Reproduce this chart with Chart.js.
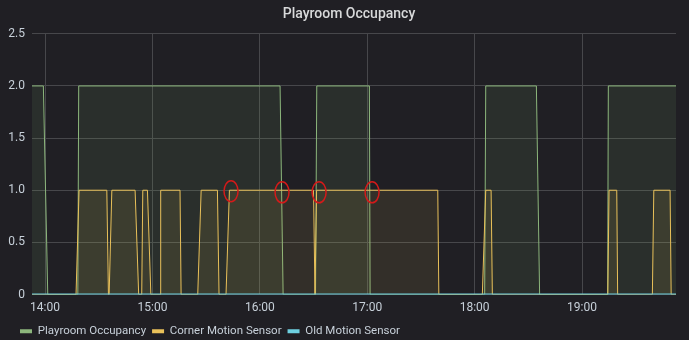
<!DOCTYPE html>
<html>
<head>
<meta charset="utf-8">
<title>Playroom Occupancy</title>
<script src="https://cdn.jsdelivr.net/npm/chart.js@4/dist/chart.umd.min.js"></script>
<style>
    html, body { margin: 0; padding: 0; background: #201f24; }
    #wrap { width: 689px; height: 340px; }
</style>
</head>
<body>
<div id="wrap"><canvas id="occupancyChart" width="689" height="340"></canvas></div>
<script>
// time range shown (last 6 hours)
const rangeStart = '13:52:42';
const rangeEnd = '19:52:30';
const hourTicks = ['14:00', '15:00', '16:00', '17:00', '18:00', '19:00'];

const occupancyTimes = ['13:52:42', '13:59:03', '14:01:30', '14:18:18', '14:18:48', '16:11:18', '16:13:00',
    '16:31:06', '16:31:48', '17:01:12', '17:01:36', '18:05:36', '18:06:12', '18:34:30', '18:36:18',
    '19:14:18', '19:14:42', '19:52:30'];
const occupancyValues = [2, 2, 0, 0, 2, 2, 0, 0, 2, 2, 0, 0, 2, 2, 0, 0, 2, 2];

const cornerTimes = ['13:52:42', '14:17:18', '14:19:00', '14:34:30', '14:35:24', '14:35:48', '14:37:18',
    '14:50:18', '14:52:18', '14:54:00', '14:54:36', '14:57:12', '14:59:06', '15:04:18', '15:04:36',
    '15:15:24', '15:16:00', '15:25:18', '15:27:12', '15:36:18', '15:37:12', '15:41:06', '15:43:00',
    '16:30:00', '16:30:48', '16:31:42', '17:39:24', '17:40:00', '18:04:18', '18:06:12', '18:09:12',
    '18:09:54', '19:14:24', '19:15:06', '19:19:24', '19:19:54', '19:39:18', '19:40:06', '19:49:12',
    '19:49:48', '19:52:30'];
const cornerValues = [0, 0, 1, 1, 0, 0, 1, 1, 0, 0, 1, 1, 0, 0, 1, 1, 0, 0, 1, 1, 0, 0, 1,
    1, 0, 1, 1, 0, 0, 1, 1, 0, 0, 1, 1, 0, 0, 1, 1, 0, 0];

const oldTimes = ['13:52:42', '19:52:30'];
const oldValues = [0, 0];

// hand drawn red circles on the screenshot
const circleTimes = ['15:43:54', '16:12:24', '16:33:06', '17:02:42'];
const circleValues = [0.99, 0.98, 0.98, 0.98];

function toMin(t) {
    const p = t.split(':').map(Number);
    return p[0] * 60 + p[1] + (p[2] || 0) / 60;
}

function toPoints(times, values) {
    return times.map((t, i) => ({ x: toMin(t), y: values[i] }));
}

function pad2(n) {
    return (n < 10 ? '0' : '') + n;
}

const circlePlugin = {
    id: 'circles',
    afterDatasetsDraw(chart) {
        const ctx = chart.ctx;
        const xs = chart.scales.x;
        const ys = chart.scales.y;
        ctx.save();
        ctx.strokeStyle = '#d41a1a';
        ctx.lineWidth = 1.5;
        circleTimes.forEach((t, i) => {
            const px = xs.getPixelForValue(toMin(t));
            const py = ys.getPixelForValue(circleValues[i]);
            ctx.beginPath();
            ctx.ellipse(px, py, 7, 10.5, 0, 0, Math.PI * 2);
            ctx.stroke();
        });
        ctx.restore();
    }
};

// grafana style: legend pinned left, title a bit right of centre
const layoutShift = {
    id: 'layoutShift',
    afterLayout(chart) {
        chart.legend.left = 14;
        chart.legend.top += 7;
        chart.legend.bottom += 7;
        chart.titleBlock.left = 22;
    }
};

const tickColor = '#c7d0d9';
const gridColor = '#47474b';

new Chart(document.getElementById('occupancyChart'), {
    type: 'line',
    data: {
        datasets: [
            {
                label: 'Playroom Occupancy',
                data: toPoints(occupancyTimes, occupancyValues),
                borderColor: '#8cb67c',
                backgroundColor: 'rgba(126, 178, 109, 0.11)',
                fill: 'origin',
                order: 3
            },
            {
                label: 'Corner Motion Sensor',
                data: toPoints(cornerTimes, cornerValues),
                borderColor: '#e9c15a',
                backgroundColor: 'rgba(224, 196, 90, 0.10)',
                fill: 'origin',
                order: 2
            },
            {
                label: 'Old Motion Sensor',
                data: toPoints(oldTimes, oldValues),
                borderColor: '#6ed0e0',
                backgroundColor: 'rgba(110, 208, 224, 0.11)',
                fill: 'origin',
                borderWidth: 2,
                order: 1
            }
        ]
    },
    options: {
        responsive: false,
        animation: false,
        devicePixelRatio: 1,
        layout: { padding: { left: 0, right: 13, top: 0, bottom: 0 } },
        elements: {
            point: { radius: 0 },
            line: { borderWidth: 1, tension: 0 }
        },
        plugins: {
            title: {
                display: true,
                text: 'Playroom Occupancy',
                color: '#d8d9da',
                font: { family: 'Roboto', size: 14, weight: '500' },
                padding: { top: 6, bottom: 11 }
            },
            legend: {
                position: 'bottom',
                align: 'start',
                labels: {
                    color: tickColor,
                    font: { family: 'Roboto', size: 11.5 },
                    boxWidth: 12,
                    boxHeight: 4,
                    padding: 6,
                    generateLabels(chart) {
                        return chart.data.datasets.map((ds, i) => ({
                            text: ds.label,
                            fillStyle: ds.borderColor,
                            strokeStyle: ds.borderColor,
                            lineWidth: 0,
                            fontColor: tickColor,
                            datasetIndex: i
                        }));
                    }
                }
            },
            tooltip: { enabled: false }
        },
        scales: {
            x: {
                type: 'linear',
                min: toMin(rangeStart),
                max: toMin(rangeEnd),
                afterBuildTicks(scale) {
                    scale.ticks = hourTicks.map(h => ({ value: toMin(h) }));
                },
                afterFit(scale) {
                    scale.height = 18;
                },
                ticks: {
                    color: tickColor,
                    font: { family: 'Roboto', size: 12 },
                    padding: 6,
                    maxRotation: 0,
                    callback: v => pad2(Math.floor(v / 60)) + ':' + pad2(Math.round(v % 60))
                },
                grid: { color: gridColor, drawTicks: false },
                border: { display: false }
            },
            y: {
                min: 0,
                max: 2.5,
                afterFit(scale) {
                    scale.width = 32;
                },
                ticks: {
                    stepSize: 0.5,
                    color: tickColor,
                    font: { family: 'Roboto', size: 12 },
                    padding: 7,
                    callback: v => v === 0 ? '0' : v.toFixed(1)
                },
                grid: { color: gridColor, drawTicks: false },
                border: { display: false }
            }
        }
    },
    plugins: [circlePlugin, layoutShift]
});
</script>
</body>
</html>
